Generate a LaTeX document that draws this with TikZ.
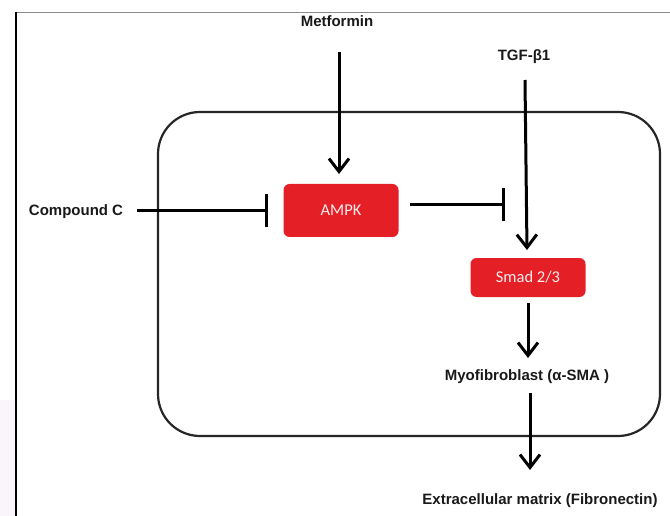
\documentclass[tikz,border=0pt]{standalone}
\usepackage{fontspec}
\setmainfont{Liberation Sans}
\newfontfamily\boxfont{Carlito}
\usetikzlibrary{arrows.meta}
\definecolor{boxred}{HTML}{E51F26}
\tikzset{
  lbl/.style={font=\bfseries\fontsize{15}{18}\selectfont, text=black!90, inner sep=0pt},
  redbox/.style={fill=boxred, rounded corners=6pt, text=white!92!boxred, font=\boxfont\fontsize{16.5}{18}\selectfont, inner sep=0pt, minimum width=#1},
  act/.style={line width=3pt, -{Straight Barb[length=13pt,width=20pt,line width=3pt]}},
  inh/.style={line width=3pt, -{Bar[width=33pt,line width=3pt]}},
}
\begin{document}
\begin{tikzpicture}[x=1pt,y=-1pt]
\useasboundingbox (0,0) rectangle (670,516);
\fill[fill={rgb,255:red,250;green,245;blue,250}] (0,400) rectangle (15,516);
\draw[black!45, line width=0.8pt] (16,12) -- (670,12);
\draw[black, line width=2pt] (16,12) -- (16,516);
% cell
\draw[black!85, line width=2.2pt, rounded corners=42pt] (158,112) rectangle (660,436);
% nodes
\node[lbl] (met) at (337,21) {Metformin};
\node[lbl] (tgf) at (524,57) {TGF-β1};
\node[lbl] (cc) at (76,212) {Compound C};
\node[redbox=115pt, minimum height=53pt] (ampk) at (341,210.5) {AMPK};
\node[redbox=115pt, minimum height=39pt] (smad) at (528,277.5) {Smad 2/3};
\node[lbl] (myo) at (527,377) {Myofibroblast (α-SMA )};
\node[lbl] (ecm) at (540,501) {Extracellular matrix (Fibronectin)};
\coordinate (metS) at (339,52);
\coordinate (metE) at (339,174);
\coordinate (tgfS) at (525,80);
\coordinate (tgfE) at (527,250);
\coordinate (ccS) at (137,211);
\coordinate (ccE) at (268,211);
\coordinate (aS) at (410,205);
\coordinate (aE) at (505,205);
\coordinate (smS) at (528,303);
\coordinate (smE) at (528,358);
\coordinate (myS) at (530,393);
\coordinate (myE) at (530,470);
% connectors
\draw[act] (metS) -- (metE);
\draw[act] (tgfS) -- (tgfE);
\draw[inh] (ccS) -- (ccE);
\draw[inh] (aS) -- (aE);
\draw[act] (smS) -- (smE);
\draw[act] (myS) -- (myE);
\end{tikzpicture}
\end{document}
